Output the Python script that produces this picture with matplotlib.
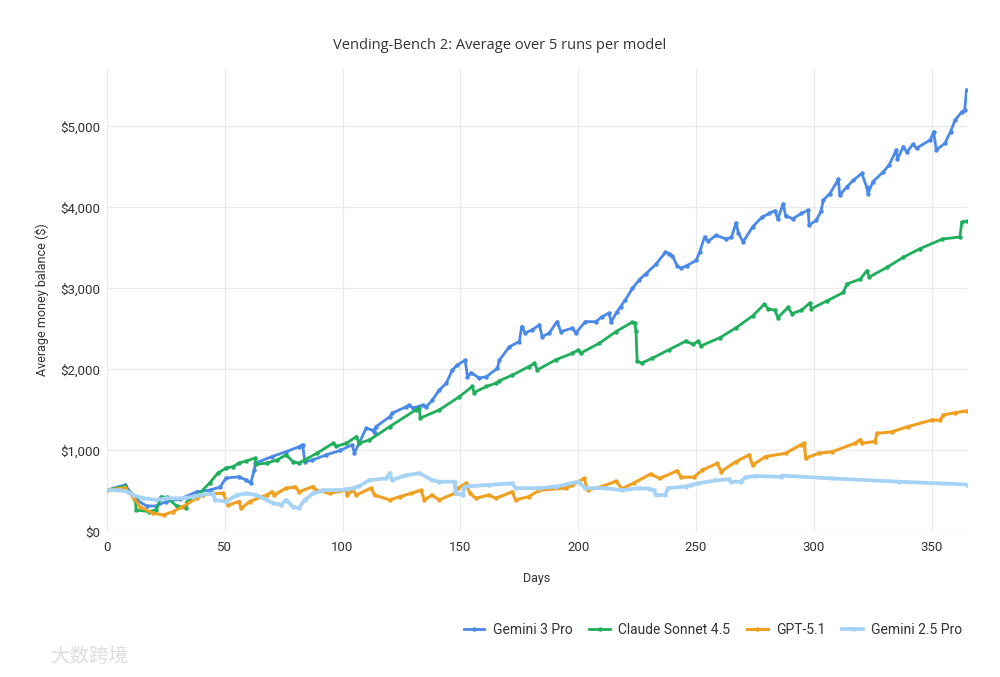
import matplotlib.pyplot as plt
from matplotlib.ticker import FuncFormatter, MultipleLocator

# Gemini 3 Pro
g3_days = [0, 7.6, 12.6, 16.8, 21, 25, 31, 38, 43.6, 48,
           50.5, 56, 59, 61, 62.5, 63, 70, 76, 81.4, 83,
           84, 87, 93, 99, 104, 105, 107, 110, 112.7, 113.6,
           114, 120, 121, 127, 128, 130, 134, 135.6, 138, 141,
           144, 146.6, 148.7, 152, 153, 154.5, 158, 161, 165.7, 166.5,
           170.8, 175, 176, 177.5, 180.5, 183.5, 184.7, 187.7, 191, 192.6,
           197.5, 199, 203, 207.5, 210, 213, 214, 216.5, 218, 220,
           223, 226, 228.7, 233, 237, 238.7, 240, 242, 243.6, 246,
           250, 251.5, 253.6, 255, 258.5, 262.7, 265, 267, 268, 270,
           274, 278, 281, 283.5, 284.7, 287, 288, 291, 294.7, 297.6,
           298, 301, 303, 304, 306.8, 309.8, 310.4, 311, 314, 316.8,
           320.3, 322.4, 323, 325, 329.5, 332, 335, 335.5, 338, 339.5,
           342, 343.6, 349.5, 350.8, 352, 355.6, 358, 360, 362.8, 364,
           364.8]
g3_vals = [510, 575, 390, 315, 315, 370, 400, 490, 510, 550,
           660, 675, 635, 600, 760, 845, 925, 985, 1045, 1070,
           860, 880, 945, 1000, 1070, 970, 1090, 1275, 1250, 1215,
           1290, 1417, 1460, 1540, 1560, 1525, 1560, 1540, 1620, 1745,
           1830, 1995, 2055, 2115, 1910, 1960, 1895, 1910, 2015, 2115,
           2280, 2345, 2530, 2450, 2490, 2550, 2405, 2450, 2590, 2467,
           2510, 2450, 2590, 2590, 2650, 2695, 2590, 2715, 2775, 2860,
           3000, 3110, 3180, 3300, 3445, 3430, 3400, 3280, 3250, 3280,
           3345, 3445, 3633, 3580, 3655, 3610, 3630, 3810, 3680, 3575,
           3760, 3880, 3925, 3960, 3860, 4045, 3900, 3860, 3925, 3965,
           3780, 3840, 3950, 4090, 4170, 4315, 4355, 4150, 4255, 4335,
           4420, 4255, 4170, 4315, 4440, 4525, 4710, 4595, 4750, 4680,
           4780, 4730, 4835, 4935, 4710, 4790, 4935, 5080, 5180, 5200,
           5450]

# Claude Sonnet 4.5
cs_days = [0, 7.5, 12, 12.4, 18, 21, 23, 25.5, 29.5, 33.7,
           34, 39.4, 43.6, 47, 50.6, 53.5, 56, 59, 62.7, 63.4,
           67.7, 72, 76, 79, 81.5, 84, 89, 96, 97.4, 101.6,
           105.8, 107, 111.4, 120, 131, 132.5, 133, 141, 149.6, 155,
           155.8, 161, 165, 166.5, 172, 179, 181.4, 182.7, 190.5, 197.5,
           200, 201, 209, 216, 223, 224, 224.5, 225, 227, 231.5,
           238.6, 245.7, 248.6, 251, 252, 260, 267, 274, 279, 280.6,
           283.5, 284.7, 289, 290.7, 294.7, 298.3, 299, 305.5, 312.5, 314,
           319.7, 322.5, 323.5, 331, 338, 345, 354.6, 362, 362.8, 365]
cs_vals = [510, 560, 390, 265, 245, 270, 430, 420, 315, 290,
           370, 475, 600, 720, 785, 800, 845, 870, 905, 830,
           845, 880, 945, 860, 845, 885, 965, 1090, 1050, 1090,
           1170, 1090, 1130, 1295, 1500, 1520, 1400, 1500, 1665, 1790,
           1715, 1790, 1830, 1860, 1930, 2035, 2075, 1995, 2120, 2200,
           2240, 2200, 2325, 2467, 2585, 2570, 2480, 2100, 2080, 2140,
           2245, 2350, 2310, 2350, 2290, 2390, 2515, 2660, 2805, 2750,
           2730, 2640, 2765, 2690, 2730, 2820, 2750, 2845, 2950, 3055,
           3115, 3220, 3140, 3260, 3385, 3490, 3610, 3635, 3820, 3830]

# GPT-5.1
gp_days = [0, 7.5, 11, 14, 19.6, 24, 28, 32, 38, 40.8,
           45, 49.3, 51.4, 56, 57, 60.5, 67.7, 70, 71, 76,
           80, 81.5, 87.4, 88.8, 94.5, 101.5, 102, 104.4, 105.8, 112,
           113.6, 120, 124.3, 129, 133.3, 134.7, 138, 141, 147.5, 149,
           152.4, 154, 156.6, 162, 165, 172, 173.4, 179, 183.5, 195,
           197.5, 202.5, 204, 210, 216, 218.6, 223.7, 230.7, 234.6, 242,
           243.6, 249, 252.7, 259, 260.7, 266.8, 272.5, 274, 279.5, 288,
           294.4, 296, 296.5, 302, 307.8, 317.6, 319.7, 320.3, 326, 326.8,
           333, 340, 350, 353.6, 355, 360, 365]
gp_vals = [510, 540, 430, 305, 225, 205, 245, 305, 410, 450,
           470, 470, 325, 370, 285, 370, 450, 490, 450, 535,
           550, 490, 555, 510, 470, 510, 450, 510, 450, 535,
           450, 390, 430, 470, 510, 390, 450, 390, 470, 535,
           595, 470, 410, 450, 410, 490, 390, 430, 510, 535,
           575, 655, 510, 555, 620, 530, 600, 710, 655, 750,
           670, 670, 760, 840, 740, 860, 945, 820, 925, 965,
           1070, 1090, 905, 965, 985, 1090, 1135, 1090, 1110, 1210,
           1230, 1295, 1375, 1375, 1440, 1465, 1490]

# Gemini 2.5 Pro
g25_days = [0, 5, 9, 11, 15.4, 21, 25, 32, 36.6, 39.4,
            45, 45.8, 50.7, 55, 59, 63.4, 67.7, 70.5, 74, 76,
            79, 81.4, 84, 87.4, 91.7, 97.4, 101.5, 104.4, 107, 111.4,
            118.5, 120, 121, 127, 132.6, 138, 141, 147.5, 148, 151,
            151.7, 162, 172, 173.4, 183.5, 190.5, 200, 203, 211.6, 218.6,
            225.7, 230, 232, 233, 237, 238, 245.6, 248, 251, 258,
            264, 264.7, 269, 271, 275, 286, 286.5, 307.6, 336, 365]
g25_vals = [510, 510, 490, 450, 410, 390, 410, 410, 430, 450,
            470, 390, 370, 450, 470, 450, 390, 350, 330, 390,
            305, 290, 390, 470, 510, 510, 520, 535, 560, 635,
            655, 720, 635, 695, 720, 635, 615, 615, 470, 450,
            555, 575, 595, 535, 535, 555, 615, 535, 535, 510,
            535, 530, 510, 450, 450, 535, 555, 575, 595, 630,
            645, 615, 615, 670, 685, 675, 690, 655, 615, 580]

series = [
    ("Gemini 3 Pro", g3_days, g3_vals, "#4A89E8", 2.0),
    ("Claude Sonnet 4.5", cs_days, cs_vals, "#1FAF5C", 2.0),
    ("GPT-5.1", gp_days, gp_vals, "#F0A020", 2.2),
    ("Gemini 2.5 Pro", g25_days, g25_vals, "#A6D2F6", 2.7),
]

fig = plt.figure(figsize=(10, 6.77), dpi=100)
ax = fig.add_axes([0.107, 0.2149, 0.86, 0.6846])

for i, (name, d, v, c, lw) in enumerate(series):
    ax.plot(d, v, color=c, lw=lw, marker='o', markersize=2.2,
            label=name, zorder=3 + i, solid_joinstyle='round')

ax.set_xlim(0, 365)
ax.set_ylim(0, 5720)
ax.xaxis.set_major_locator(MultipleLocator(50))
ax.yaxis.set_major_locator(MultipleLocator(1000))
ax.yaxis.set_major_formatter(FuncFormatter(lambda y, p: f"${int(y):,}"))
ax.grid(True, color='#ebebeb', lw=0.9)
ax.set_axisbelow(True)
for s in ax.spines.values():
    s.set_visible(False)
ax.tick_params(axis='y', length=0, labelsize=9.5, colors='#333333', pad=5)
ax.tick_params(axis='x', length=0, labelsize=9.5, colors='#333333', pad=7)
for lab in ax.get_xticklabels() + ax.get_yticklabels():
    lab.set_family('Roboto')

ax.set_xlabel('Days', fontsize=9, family='Roboto', color='#333333', labelpad=13)
ax.set_ylabel('Average money balance ($)', fontsize=9, family='Roboto',
              color='#333333', labelpad=8)
fig.text(0.5, 0.933, 'Vending-Bench 2: Average over 5 runs per model',
         ha='center', va='center', fontsize=10.5, family='Open Sans', color='#333333')

leg = fig.legend(loc='center right', bbox_to_anchor=(0.975, 0.069), ncol=4,
                 frameon=False, handlelength=1.5, columnspacing=1.2,
                 handletextpad=0.6, prop={'family': 'Roboto', 'size': 10})
for t in leg.get_texts():
    t.set_color('#333333')

fig.text(0.05, 0.03, '大数跨境', fontsize=14, color='#dddddd',
         family=['Noto Sans CJK SC', 'DejaVu Sans'], va='center')

fig.savefig('out.png', dpi=100, facecolor='white')
